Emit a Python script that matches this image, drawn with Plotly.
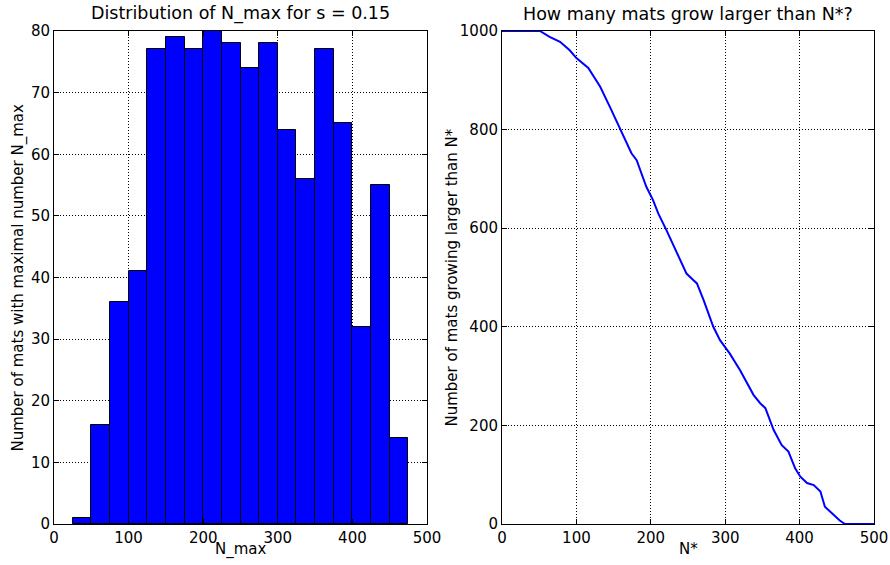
import plotly.graph_objects as go

# Histogram: bin edges 25..475 step 25
bin_left = [25, 50, 75, 100, 125, 150, 175, 200, 225, 250, 275, 300, 325, 350, 375, 400, 425, 450]
bin_width = 25
counts = [1, 16, 36, 41, 77, 79, 77, 80, 78, 74, 78, 64, 56, 77, 65, 32, 55, 14]

# Survival curve: number of mats with N_max > N*
n_star = [0, 51, 64, 78, 91, 100, 116, 127, 132, 145, 159, 174, 181, 194, 203, 210, 221, 235,
          248, 257, 262, 271, 284, 293, 306, 320, 338, 347, 354, 365, 376, 385, 394, 401,
          410, 419, 428, 434, 443, 454, 461, 500]
n_larger = [1000, 1000, 988, 978, 961, 945, 925, 900, 887, 846, 799, 752, 738, 684, 657, 630, 596, 549,
            508, 495, 488, 454, 400, 373, 346, 312, 262, 245, 235, 191, 160, 147, 113, 96,
            83, 79, 66, 35, 22, 7, 0, 0]

centers = [b + bin_width / 2 for b in bin_left]

fig = go.Figure()
fig.add_trace(go.Bar(x=centers, y=counts, width=[bin_width] * len(counts),
                     marker=dict(color="#0000ff", line=dict(color="black", width=1)),
                     xaxis="x", yaxis="y", showlegend=False))
fig.add_trace(go.Scatter(x=n_star, y=n_larger, mode="lines",
                         line=dict(color="#0000ff", width=2),
                         xaxis="x2", yaxis="y2", showlegend=False))

W, H = 890, 565
lx0, lx1 = 54 / W, 427 / W
rx0, rx1 = 502 / W, 874 / W
yb, yt = 1 - 524 / H, 1 - 31 / H

axis_common = dict(showline=True, linecolor="black", linewidth=1, mirror="ticks",
                   ticks="inside", ticklen=5, tickcolor="black", automargin=False,
                   showgrid=True, gridcolor="black", griddash="1px,2px", gridwidth=1,
                   zeroline=False, tickfont=dict(size=15, color="black"))

fig.update_layout(
    width=W, height=H, margin=dict(l=0, r=0, t=0, b=0),
    paper_bgcolor="white", plot_bgcolor="white",
    font=dict(family="DejaVu Sans", color="black"),
    bargap=0,
    xaxis=dict(domain=[lx0, lx1], range=[0, 500], tickvals=[0, 100, 200, 300, 400, 500],
               anchor="y", **axis_common),
    yaxis=dict(domain=[yb, yt], range=[0, 80], tickvals=list(range(0, 81, 10)),
               anchor="x", **axis_common),
    xaxis2=dict(domain=[rx0, rx1], range=[0, 500], tickvals=[0, 100, 200, 300, 400, 500],
                anchor="y2", **axis_common),
    yaxis2=dict(domain=[yb, yt], range=[0, 1000], tickvals=list(range(0, 1001, 200)),
                anchor="x2", **axis_common),
)

ann = [
    dict(text="Distribution of N_max for s = 0.15", x=(lx0 + lx1) / 2, y=1 - 14 / H,
         font=dict(size=17.5)),
    dict(text="How many mats grow larger than N*?", x=(rx0 + rx1) / 2, y=1 - 14 / H,
         font=dict(size=17.5)),
    dict(text="N_max", x=(lx0 + lx1) / 2, y=1 - 549 / H, font=dict(size=15)),
    dict(text="N*", x=(rx0 + rx1) / 2, y=1 - 549 / H, font=dict(size=15)),
    dict(text="Number of mats with maximal number N_max", x=18 / W, y=(yb + yt) / 2,
         textangle=-90, font=dict(size=15)),
    dict(text="Number of mats growing larger than N*", x=451 / W, y=(yb + yt) / 2,
         textangle=-90, font=dict(size=15)),
]
for a in ann:
    fig.add_annotation(xref="paper", yref="paper", showarrow=False,
                       xanchor="center", yanchor="middle", **a)

fig.write_html("out.html")
